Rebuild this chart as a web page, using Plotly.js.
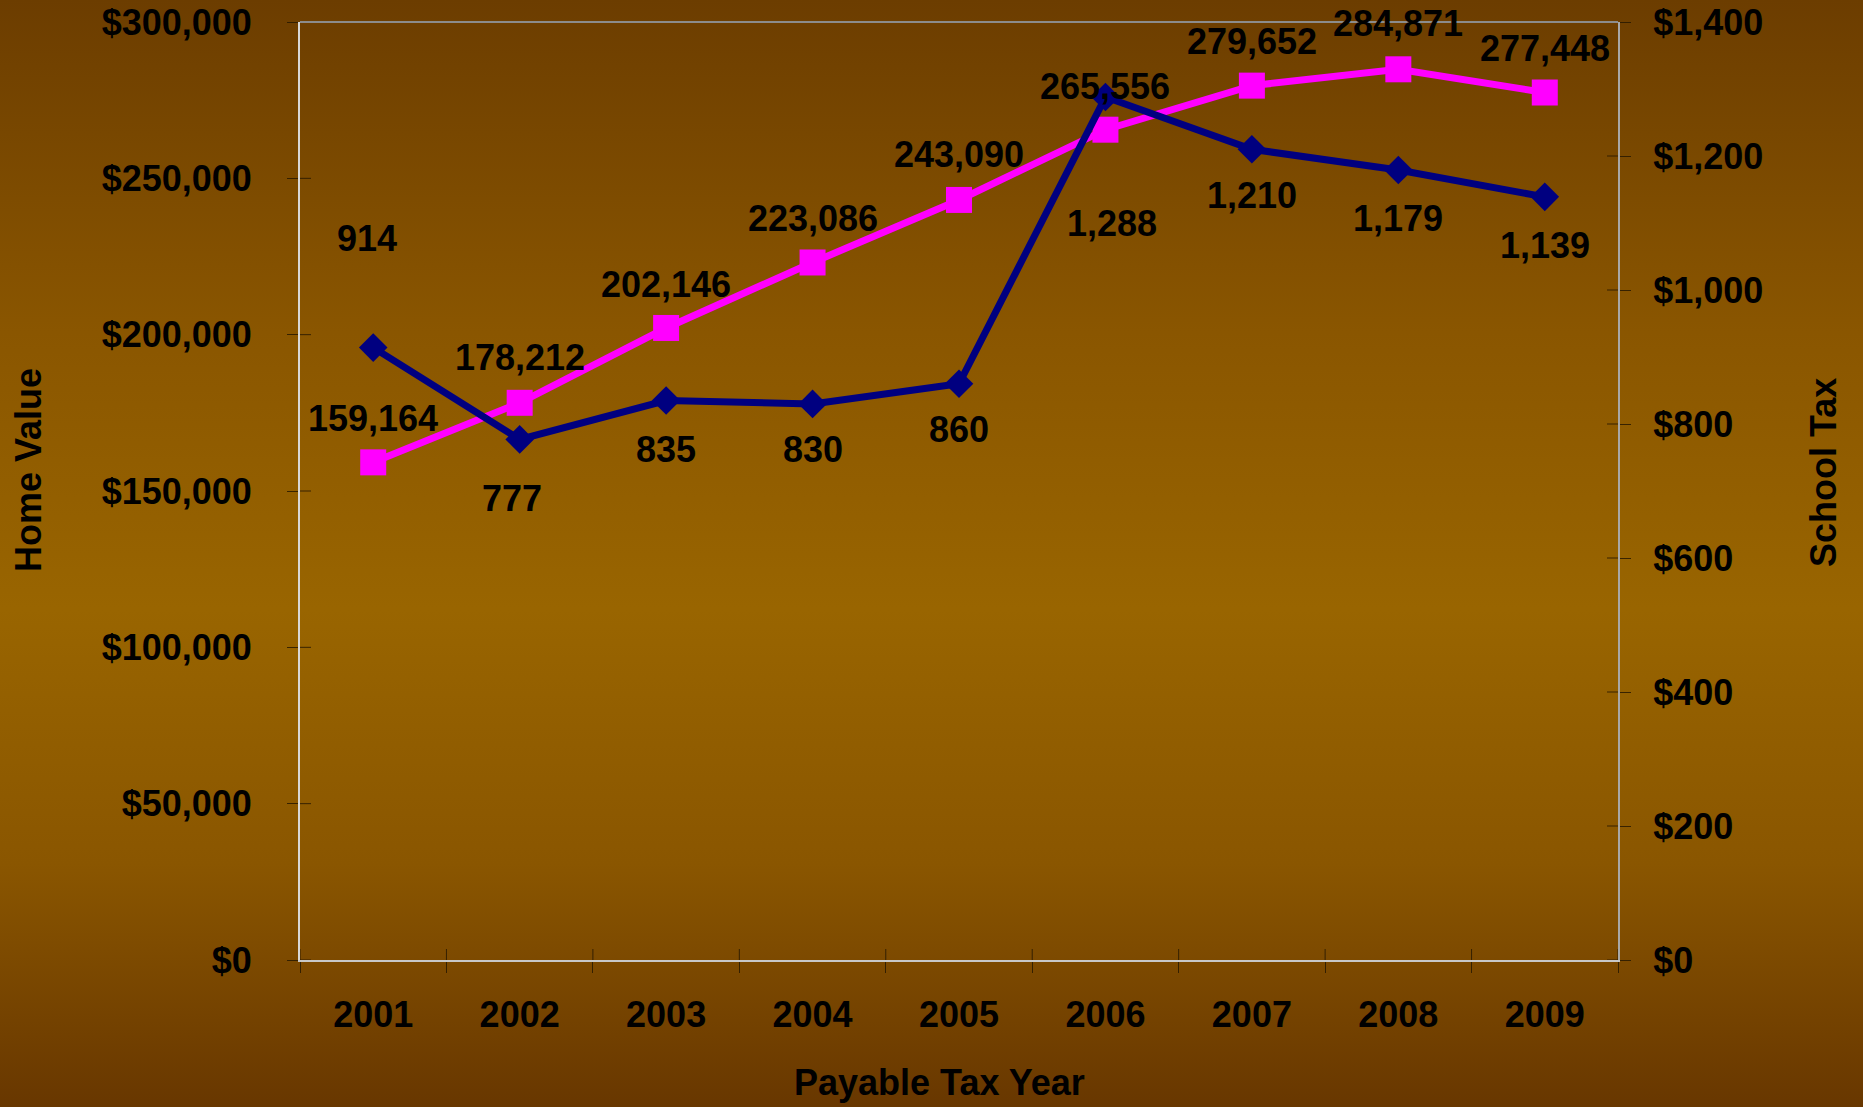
<!DOCTYPE html>
<html>
<head>
<meta charset="utf-8">
<script src="https://cdn.plot.ly/plotly-3.0.1.min.js"></script>
<style>
  html, body { margin: 0; padding: 0; width: 1863px; height: 1107px; overflow: hidden;
    background: linear-gradient(to bottom, #6c3d00 0%, #8a5600 30%, #996500 55%, #8a5600 78%, #683700 100%); }
  #chart { width: 1863px; height: 1107px; }
</style>
</head>
<body>
<div id="chart"></div>
<script>
// ---- data ----
const years = ['2001','2002','2003','2004','2005','2006','2007','2008','2009'];
const homeValue = [159164, 178212, 202146, 223086, 243090, 265556, 279652, 284871, 277448];
const schoolTax = [914, 777, 835, 830, 860, 1288, 1210, 1179, 1139];

// ---- axis setup ----
const homeRange = [0, 300000], homeStep = 50000;
const taxRange = [0, 1400], taxStep = 200;

// ---- label placement (layout only) ----
const homeLabelDy = [44, 45, 43, 44, 45, 43, 44, 46, 44];
const taxLabelDy = [109, -59, -49, -46, -46, -126, -46, -48, -49];
const taxLabelDx = [-6, -8, 0, 0, 0, 7, 0, 0, 0];

const FONT = 'Liberation Sans, Arial, sans-serif';
const fmt = v => v.toLocaleString('en-US');

const W = 1863, H = 1107;
const M = { l: 300, r: 245, t: 22, b: 147 };
const PW = W - M.l - M.r, PH = H - M.t - M.b;
const px2x = p => p / PW, px2y = p => p / PH;

const traces = [
  {
    x: years, y: homeValue, name: 'Home Value', type: 'scatter', mode: 'lines+markers',
    line: { color: '#FF00FF', width: 7 },
    marker: { symbol: 'square', size: 26, color: '#FF00FF' },
    xaxis: 'x', yaxis: 'y', cliponaxis: false
  },
  {
    x: years, y: schoolTax, name: 'School Tax', type: 'scatter', mode: 'lines+markers',
    line: { color: '#000080', width: 7 },
    marker: { symbol: 'diamond', size: 22, color: '#000080' },
    xaxis: 'x', yaxis: 'y2', cliponaxis: false
  }
];

const labelFont = { family: FONT, size: 36, color: '#000000', weight: 'bold' };
const annotations = [];
years.forEach((yr, i) => {
  annotations.push({
    xref: 'x', yref: 'y', x: i, y: homeValue[i], text: fmt(homeValue[i]),
    showarrow: false, yshift: homeLabelDy[i], xanchor: 'center', yanchor: 'middle',
    font: labelFont
  });
  annotations.push({
    xref: 'x', yref: 'y2', x: i, y: schoolTax[i], text: fmt(schoolTax[i]),
    showarrow: false, yshift: taxLabelDy[i], xshift: taxLabelDx[i], xanchor: 'center', yanchor: 'middle',
    font: labelFont
  });
});

// axis titles (placed as in the original, slightly off-centre)
annotations.push({
  xref: 'paper', yref: 'paper', x: px2x(28 - M.l), y: px2y(H - M.b - 470),
  text: 'Home Value', textangle: -90, showarrow: false, xanchor: 'center', yanchor: 'middle',
  font: labelFont
});
annotations.push({
  xref: 'paper', yref: 'paper', x: px2x(1824 - M.l), y: px2y(H - M.b - 473),
  text: 'School Tax', textangle: -90, showarrow: false, xanchor: 'center', yanchor: 'middle',
  font: labelFont
});
annotations.push({
  xref: 'paper', yref: 'paper', x: px2x(939 - M.l), y: px2y(H - M.b - 1082),
  text: 'Payable Tax Year', showarrow: false, xanchor: 'center', yanchor: 'middle',
  font: labelFont
});

const tickCol = 'rgba(40,25,0,0.85)';
const tickFont = { family: FONT, size: 36, color: '#000', weight: 'bold' };
const TL = 11;

// inner halves of the crossing tick marks + top border
const shapes = [];
for (let v = homeRange[0]; v <= homeRange[1]; v += homeStep) {
  shapes.push({ type: 'line', xref: 'paper', yref: 'y', x0: 0, x1: px2x(TL), y0: v, y1: v,
    line: { color: tickCol, width: 1 } });
}
for (let v = taxRange[0]; v <= taxRange[1]; v += taxStep) {
  shapes.push({ type: 'line', xref: 'paper', yref: 'y2', x0: 1 - px2x(TL), x1: 1, y0: v, y1: v,
    line: { color: tickCol, width: 1 } });
}
for (let k = 0; k <= years.length; k++) {
  shapes.push({ type: 'line', xref: 'x', yref: 'paper', x0: k - 0.5, x1: k - 0.5, y0: 0, y1: px2y(TL),
    line: { color: tickCol, width: 1 } });
}
shapes.push({ type: 'line', xref: 'paper', yref: 'paper', x0: 0, x1: 1, y0: 1, y1: 1,
  line: { color: '#8c8c8c', width: 2 } });

const layout = {
  width: W, height: H,
  paper_bgcolor: 'rgba(0,0,0,0)', plot_bgcolor: 'rgba(0,0,0,0)',
  margin: M,
  showlegend: false,
  font: { family: FONT, color: '#000' },
  xaxis: {
    type: 'category', range: [-0.5, years.length - 0.5], tickson: 'boundaries',
    ticks: 'outside', ticklen: TL, tickwidth: 1, tickcolor: tickCol,
    showgrid: false, zeroline: false,
    showline: true, linecolor: '#c8c8c8', linewidth: 2,
    tickfont: tickFont, ticklabelstandoff: 22
  },
  yaxis: {
    range: homeRange, dtick: homeStep, tickformat: '$,.0f',
    ticks: 'outside', ticklen: TL, tickwidth: 1, tickcolor: tickCol,
    showgrid: false, zeroline: false,
    showline: true, linecolor: '#d8d8d8', linewidth: 2,
    tickfont: tickFont, ticklabelstandoff: 28
  },
  yaxis2: {
    overlaying: 'y', side: 'right', anchor: 'x', range: taxRange, dtick: taxStep, tickformat: '$,.0f',
    ticks: 'outside', ticklen: TL, tickwidth: 1, tickcolor: tickCol,
    showgrid: false, zeroline: false, showline: true, linecolor: '#a8a8a8', linewidth: 2,
    tickfont: tickFont, ticklabelstandoff: 15
  },
  shapes: shapes,
  annotations: annotations
};

Plotly.newPlot('chart', traces, layout, { staticPlot: true, displayModeBar: false });
</script>
</body>
</html>
